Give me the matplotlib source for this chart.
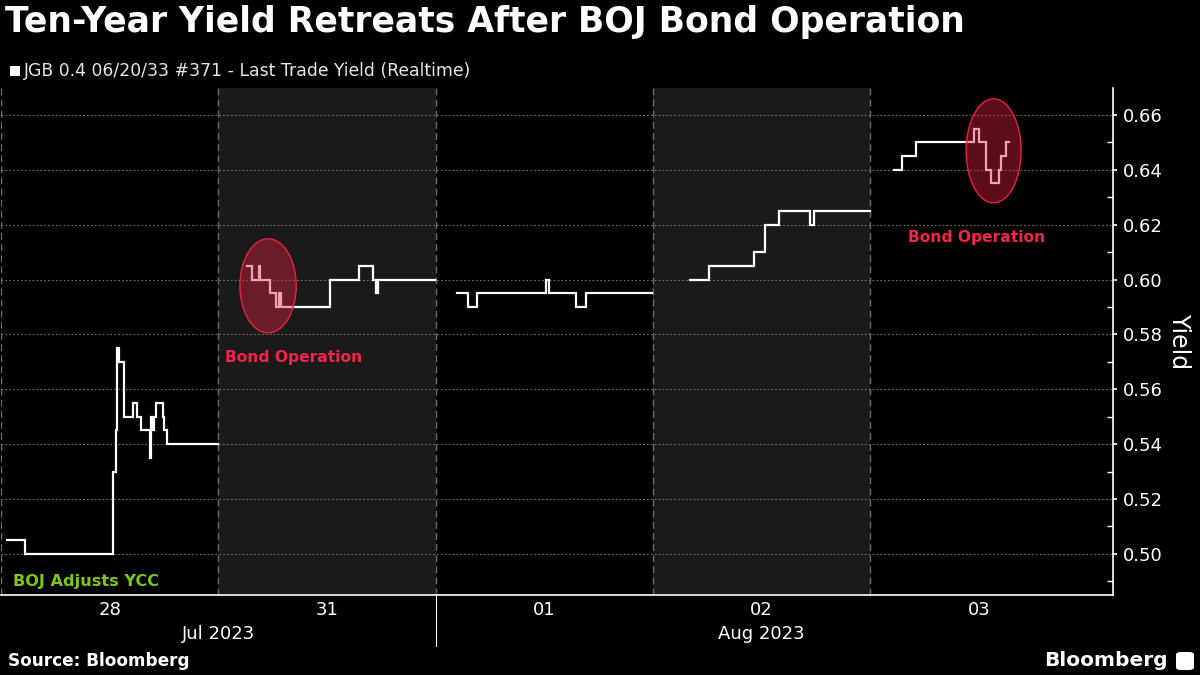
import matplotlib
matplotlib.use("Agg")
import matplotlib.pyplot as plt
from matplotlib.patches import Ellipse, FancyBboxPatch, Rectangle
import matplotlib.transforms as mtransforms

# ---------------- data ----------------
day_labels = ["28", "31", "01", "02", "03"]
month_labels = ["Jul 2023", "Aug 2023"]
month_centers = [1.0, 3.5]
month_split = 2.0
shaded_days = [1, 3]

# time expressed as chart-day index (0 = Jul 28, 1 = Jul 31, ...)
jul28_t = [0.028, 0.110, 0.515, 0.529, 0.536, 0.545, 0.566, 0.607, 0.625, 0.644,
           0.685, 0.692, 0.697, 0.703, 0.712, 0.735, 0.745, 0.752, 0.763, 0.998]
jul28_y = [0.505, 0.500, 0.530, 0.545, 0.575, 0.570, 0.550, 0.555, 0.550, 0.545,
           0.535, 0.550, 0.545, 0.550, 0.555, 0.555, 0.550, 0.545, 0.540, 0.540]

jul31_t = [1.130, 1.153, 1.185, 1.193, 1.238, 1.264, 1.277, 1.287, 1.514, 1.645,
           1.712, 1.727, 1.737, 1.995]
jul31_y = [0.605, 0.600, 0.605, 0.600, 0.595, 0.590, 0.595, 0.590, 0.600, 0.605,
           0.600, 0.595, 0.600, 0.600]

aug01_t = [2.097, 2.150, 2.192, 2.509, 2.521, 2.647, 2.690, 2.996]
aug01_y = [0.595, 0.590, 0.595, 0.600, 0.595, 0.590, 0.595, 0.595]

aug02_t = [3.169, 3.257, 3.463, 3.514, 3.578, 3.724, 3.740, 4.000]
aug02_y = [0.600, 0.605, 0.610, 0.620, 0.625, 0.620, 0.625, 0.625]

aug03_t = [4.107, 4.146, 4.210, 4.478, 4.501, 4.532, 4.555, 4.593, 4.602, 4.624, 4.636]
aug03_y = [0.640, 0.645, 0.650, 0.655, 0.650, 0.640, 0.635, 0.640, 0.645, 0.650, 0.650]

series = [(jul28_t, jul28_y), (jul31_t, jul31_y), (aug01_t, aug01_y),
          (aug02_t, aug02_y), (aug03_t, aug03_y)]

# highlight ellipses: (center_t, center_y, width_days, height_yield)
highlights = [(1.229, 0.5977, 0.259, 0.0343), (4.567, 0.6469, 0.253, 0.0379)]

annotations = [
    ("Bond Operation", 1.030, 0.5714, "#f5224b", 11.2),
    ("Bond Operation", 4.175, 0.6152, "#f5224b", 11.2),
    ("BOJ Adjusts YCC", 0.055, 0.4900, "#7cc614", 11.6),
]

y_major = [0.50, 0.52, 0.54, 0.56, 0.58, 0.60, 0.62, 0.64, 0.66]
y_minor = [0.49, 0.51, 0.53, 0.55, 0.57, 0.59, 0.61, 0.63, 0.65]

title = "Ten-Year Yield Retreats After BOJ Bond Operation"
legend_label = "JGB 0.4 06/20/33 #371 - Last Trade Yield (Realtime)"

# ---------------- figure ----------------
plt.rcParams['font.family'] = ['DejaVu Sans']
fig = plt.figure(figsize=(12, 6.75), dpi=100, facecolor="black")
ax = fig.add_axes([0.0008, 0.1185, 0.9270, 0.7511])
ax.set_facecolor("black")

ax.set_xlim(0, 5.118)
ax.set_ylim(0.485, 0.6698)

for d in shaded_days:
    ax.axvspan(d, d + 1, color="#1a1a1a", zorder=0, lw=0)
for d in range(5):
    ax.axvline(d, color="#6a6a6a", lw=1.0, ls=(0, (5, 3)), zorder=1)
for yv in y_major:
    ax.axhline(yv, color="#707070", lw=0.8, ls=(0, (1.5, 2)), zorder=1)

for t, y in series:
    ax.plot(t, y, drawstyle="steps-post", color="white", lw=1.6, zorder=2,
            solid_joinstyle="miter")

for cx, cy, w, h in highlights:
    ax.add_patch(Ellipse((cx, cy), w, h, facecolor=(0.88, 0.13, 0.25, 0.42),
                         edgecolor=(0.90, 0.13, 0.25, 1.0), lw=1.0, zorder=3))

for txt, x, y, c, fs in annotations:
    ax.text(x, y, txt, color=c, fontsize=fs, fontweight="bold",
            ha="left", va="center", zorder=4)

# spines
for s in ["left", "top"]:
    ax.spines[s].set_visible(False)
ax.spines["right"].set_color("white")
ax.spines["bottom"].set_color("white")
ax.spines["right"].set_linewidth(1.2)
ax.spines["bottom"].set_linewidth(1.2)

# y axis
ax.yaxis.tick_right()
ax.yaxis.set_label_position("right")
ax.set_yticks(y_major)
ax.set_yticklabels([f"{v:.2f}" for v in y_major])
ax.set_yticks(y_minor, minor=True)
ax.tick_params(axis="y", which="major", direction="out", length=3, width=1.2,
               colors="white", labelsize=13, pad=4)
ax.tick_params(axis="y", which="minor", direction="in", length=4, width=1.0,
               colors="white")
ax.set_ylabel("Yield", color="white", fontsize=17, rotation=270, labelpad=20)

# x axis
ax.set_xticks([i + 0.5 for i in range(len(day_labels))])
ax.set_xticklabels(day_labels)
ax.tick_params(axis="x", length=0, colors="white", labelsize=13, pad=4)
trans = mtransforms.blended_transform_factory(ax.transData, ax.transAxes)
for lab, c in zip(month_labels, month_centers):
    ax.text(c, -0.077, lab, transform=trans, color="white", fontsize=13,
            ha="center", va="center")
ax.plot([month_split, month_split], [0, -0.1], transform=trans, color="white",
        lw=0.8, clip_on=False)

# title / legend / footer
fig.text(0.004, 0.967, title, color="white", fontsize=24.9, fontweight="bold",
         ha="left", va="center")
fig.patches.append(Rectangle((10 / 1200, 1 - 76 / 675), 10 / 1200, 10 / 675,
                             transform=fig.transFigure, facecolor="white",
                             edgecolor="none"))
fig.text(24 / 1200, 1 - 71 / 675, legend_label, color="#e6e6e6", fontsize=12.4,
         ha="left", va="center")
fig.text(8 / 1200, 1 - 661 / 675, "Source: Bloomberg", color="white",
         fontsize=12.2, fontweight="bold", ha="left", va="center")
fig.text(1168 / 1200, 1 - 660 / 675, "Bloomberg", color="white", fontsize=14.5,
         fontweight="bold", ha="right", va="center")
fig.patches.append(FancyBboxPatch((1176 / 1200, 1 - 670 / 675), 18 / 1200, 18 / 675,
                                  boxstyle="round,pad=0,rounding_size=0.004",
                                  transform=fig.transFigure, facecolor="white",
                                  edgecolor="none"))

fig.savefig("out.png", dpi=100, facecolor="black")
